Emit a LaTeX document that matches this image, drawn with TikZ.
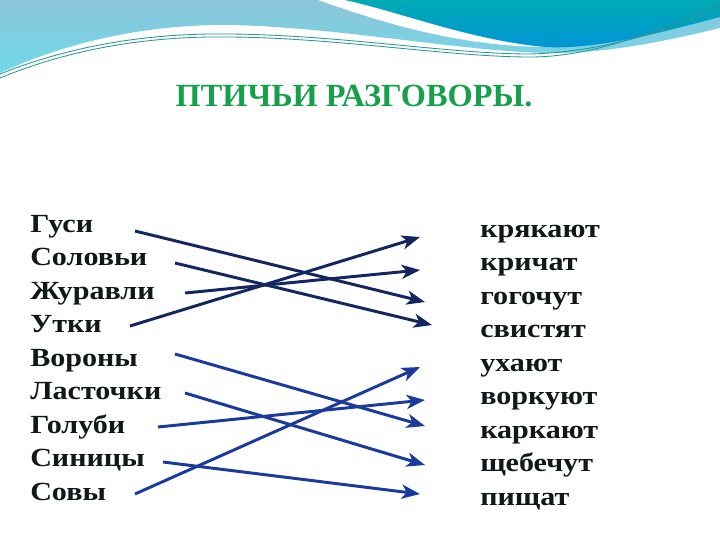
\documentclass[tikz,border=0pt]{standalone}
\usepackage{fontspec}
\setmainfont[FakeStretch=1.15]{Liberation Serif}
\newfontfamily\headfont{Liberation Serif}
\usetikzlibrary{positioning,arrows.meta}

\definecolor{skylight}{RGB}{140,196,218}
\definecolor{skycyan}{RGB}{112,218,232}
\definecolor{seateal}{RGB}{0,170,180}
\definecolor{seablue}{RGB}{0,148,216}
\definecolor{wavegreen}{RGB}{40,150,150}
\definecolor{titlegreen}{RGB}{22,160,75}
\definecolor{inkdark}{RGB}{16,24,24}
\definecolor{navyline}{RGB}{20,38,96}
\definecolor{blueline}{RGB}{26,58,156}

\begin{document}
\begin{tikzpicture}[x=0.025cm,y=-0.025cm,
	word/.style={anchor=base west,inner sep=0pt,text=inkdark,font=\bfseries\fontsize{18.6}{22}\selectfont},
	match/.style={->,line width=2.1pt},
	>={Stealth[length=13pt,width=10pt,inset=3.5pt]}]
	\useasboundingbox (0,0) rectangle (720,540);
	\fill[white] (0,0) rectangle (720,540);

	% Top wave
	\shade[top color=skylight,bottom color=skycyan] (0,0) -- (720,0) -- (720,28)
		.. controls (670,40) and (610,53) .. (555,53)
		.. controls (470,53) and (340,27) .. (230,25)
		.. controls (140,24) and (60,45) .. (0,73) -- cycle;
	\fill[white] (318,0) .. controls (370,18) and (450,46) .. (545,47) -- (545,0) -- cycle;
	\shade[top color=seateal,bottom color=seablue] (345,0)
		.. controls (400,12) and (470,40) .. (545,47)
		.. controls (600,50) and (670,30) .. (720,17) -- (720,0) -- cycle;
	\draw[wavegreen,line width=0.6pt] (0,78) .. controls (80,45) and (160,36) .. (230,37)
		.. controls (340,38) and (450,57) .. (530,57)
		.. controls (600,57) and (670,25) .. (720,3);
	\draw[wavegreen,line width=0.6pt] (0,74) .. controls (80,42) and (160,33) .. (230,34)
		.. controls (340,35) and (450,54) .. (530,54)
		.. controls (610,52) and (680,25) .. (720,9);

	% Title
	\node[inner sep=0pt,anchor=base,text=titlegreen,font=\headfont\bfseries\fontsize{23}{28}\selectfont] (title) at (354,106) {ПТИЧЬИ РАЗГОВОРЫ.};

	% Birds
	\foreach \name/\word [count=\i] in {gusi/Гуси,solovi/Соловьи,zhuravli/Журавли,utki/Утки,vorony/Вороны,lastochki/Ласточки,golubi/Голуби,sinitsy/Синицы,sovy/Совы}
		\node[word] (\name) at (30,{232+33.5*(\i-1)}) {\word};

	% Sounds
	\foreach \name/\word [count=\i] in {kryakayut/крякают,krichat/кричат,gogochut/гогочут,svistyat/свистят,ukhayut/ухают,vorkuyut/воркуют,karkayut/каркают,shchebechut/щебечут,pishchat/пищат}
		\node[word] (\name) at (480,{237+33.5*(\i-1)}) {\word};

	% Matches
	\draw[match,navyline] ([shift={(105,-1)}]gusi.base west) -- ([shift={(-55,-2)}]gogochut.base west);
	\draw[match,navyline] ([shift={(145,-2.5)}]solovi.base west) -- ([shift={(-48,-12.5)}]svistyat.base west);
	\draw[match,navyline] ([shift={(155,-6)}]zhuravli.base west) -- ([shift={(-60,-0.5)}]krichat.base west);
	\draw[match,navyline] ([shift={(100,-6.5)}]utki.base west) -- ([shift={(-60,0)}]kryakayut.base west);
	\draw[match,blueline] ([shift={(145,-12)}]vorony.base west) -- ([shift={(-55,-12)}]karkayut.base west);
	\draw[match,blueline] ([shift={(155,-6.5)}]lastochki.base west) -- ([shift={(-55,-6.5)}]shchebechut.base west);
	\draw[match,blueline] ([shift={(128,-6)}]golubi.base west) -- ([shift={(-55,-4.5)}]vorkuyut.base west);
	\draw[match,blueline] ([shift={(133,-4.5)}]sinitsy.base west) -- ([shift={(-60,-11)}]pishchat.base west);
	\draw[match,blueline] ([shift={(105,-6)}]sovy.base west) -- ([shift={(-60,-4)}]ukhayut.base west);
\end{tikzpicture}
\end{document}
